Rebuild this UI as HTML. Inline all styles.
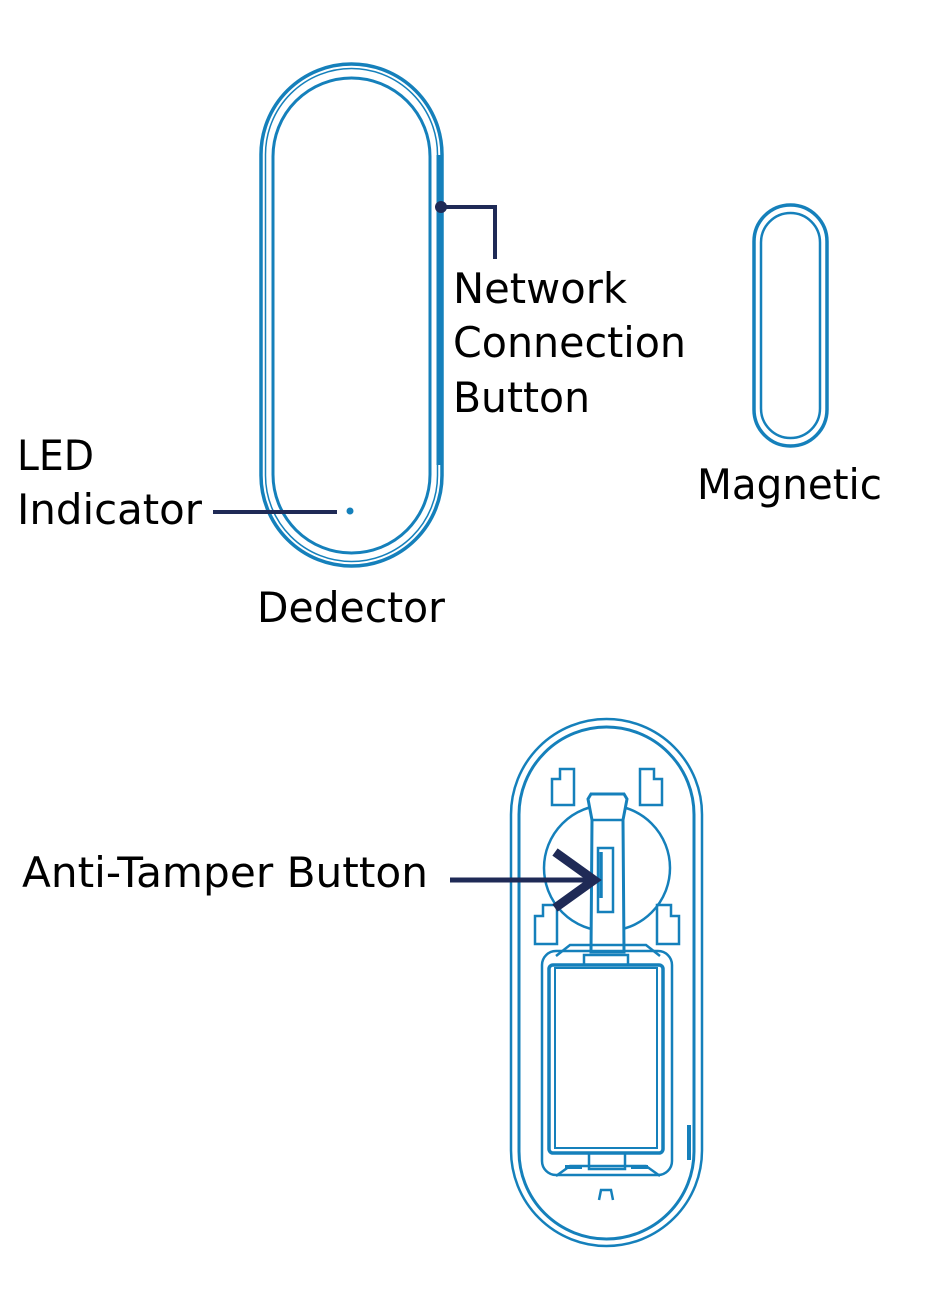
<!DOCTYPE html>
<html><head><meta charset="utf-8"><style>
html,body{margin:0;padding:0;background:#fff;}
svg{display:block}
text{font-family:"DejaVu Sans","Liberation Sans",sans-serif;font-size:42px;fill:#000;}
</style></head><body>
<svg width="947" height="1299" viewBox="0 0 947 1299" xmlns="http://www.w3.org/2000/svg">
<g fill="none" stroke="#1580bb">
  <!-- detector -->
  <rect x="261" y="64" width="181" height="502" rx="90.5" stroke-width="3.5"/>
  <rect x="265.5" y="68.5" width="172" height="493" rx="86" stroke-width="1.5"/>
  <rect x="273" y="78" width="157" height="475" rx="78.5" stroke-width="3"/>
  <line x1="439" y1="155" x2="439" y2="465" stroke-width="5"/>
  <!-- magnetic -->
  <rect x="754" y="205" width="73" height="241" rx="36.5" stroke-width="3.5"/>
  <rect x="761" y="213" width="59" height="225" rx="29.5" stroke-width="2.5"/>
  <!-- bottom device -->
  <rect x="511" y="719" width="191" height="527" rx="95.5" stroke-width="2.5"/>
  <rect x="519" y="727" width="175" height="512" rx="87.5" stroke-width="3"/>
  <circle cx="607" cy="868" r="63" stroke-width="2.5"/>
  <path d="M588 799 L591 794 L624 794 L627 799 L623 820 L624 952 L591 952 L592 820 Z" fill="#fff" stroke-width="3"/>
  <line x1="592" y1="820" x2="623" y2="820" stroke-width="2.5"/>
  <rect x="598" y="848" width="15" height="64" stroke-width="2.5"/>
  <line x1="601" y1="852" x2="601" y2="898" stroke-width="3.5"/>
  <!-- clips -->
  <path d="M552 779 L560 779 L560 769 L574 769 L574 805 L552 805 Z" stroke-width="2.5"/>
  <path d="M640 769 L654 769 L654 779 L662 779 L662 805 L640 805 Z" stroke-width="2.5"/>
  <path d="M535 916 L543 916 L543 905 L557 905 L557 944 L535 944 Z" stroke-width="2.5"/>
  <path d="M657 905 L671 905 L671 916 L679 916 L679 944 L657 944 Z" stroke-width="2.5"/>
  <!-- battery -->
  <rect x="542" y="951" width="130" height="224" rx="14" stroke-width="2.5"/>
  <rect x="549" y="965" width="114" height="188" rx="4" stroke-width="3.5"/>
  <rect x="555" y="968" width="102" height="180" stroke-width="2"/>
  <path d="M556 1176 L570 1166 L646 1166 L660 1176" stroke-width="2.5"/>
  <rect x="589" y="1153" width="36" height="16" stroke-width="2.5"/>
  <line x1="565" y1="1167" x2="582" y2="1167" stroke-width="4"/>
  <line x1="631" y1="1167" x2="648" y2="1167" stroke-width="4"/>
  <path d="M556 956 L570 945 L646 945 L660 956" stroke-width="2.5"/>
  <rect x="584" y="955" width="44" height="10" stroke-width="2.5"/>
  <path d="M599 1200 L601 1190 L611 1190 L613 1200" stroke-width="2.5"/>
  <line x1="689" y1="1125" x2="689" y2="1160" stroke-width="4"/>
</g>
<!-- leaders -->
<g stroke="#1f2a56" fill="none" stroke-width="4">
  <polyline points="441,207 495,207 495,259"/>
  <line x1="213" y1="512" x2="337" y2="512"/>
  <line x1="450" y1="880" x2="595" y2="880" stroke-width="5"/>
  <polyline points="555,852 594,880 555,908" stroke-width="9"/>
</g>
<circle cx="441" cy="207" r="6" fill="#1f2a56"/>
<circle cx="350" cy="511" r="3.5" fill="#1580bb"/>
<!-- labels -->
<text x="453" y="303" textLength="174" lengthAdjust="spacingAndGlyphs">Network</text>
<text x="453" y="357" textLength="233" lengthAdjust="spacingAndGlyphs">Connection</text>
<text x="453" y="412" textLength="137" lengthAdjust="spacingAndGlyphs">Button</text>
<text x="17" y="470" textLength="77" lengthAdjust="spacingAndGlyphs">LED</text>
<text x="17" y="524" textLength="185" lengthAdjust="spacingAndGlyphs">Indicator</text>
<text x="257" y="622" textLength="188" lengthAdjust="spacingAndGlyphs">Dedector</text>
<text x="697" y="499" textLength="185" lengthAdjust="spacingAndGlyphs">Magnetic</text>
<text x="22" y="887" textLength="406" lengthAdjust="spacingAndGlyphs">Anti-Tamper Button</text>
</svg>
</body></html>
